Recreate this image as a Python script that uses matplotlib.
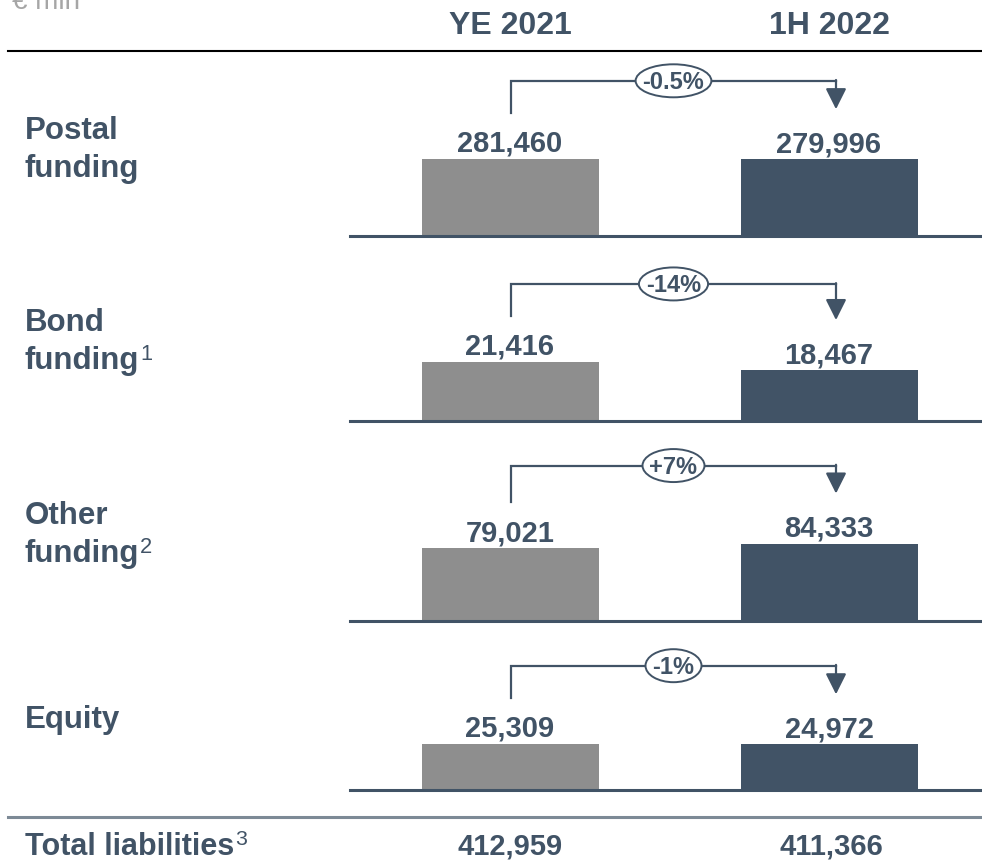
import numpy as np
import matplotlib.pyplot as plt
from matplotlib.patches import Ellipse

plt.rcParams['font.family'] = ['Liberation Sans', 'DejaVu Sans']

# data
categories = ["Postal\nfunding", "Bond\nfunding", "Other\nfunding", "Equity"]
footnotes = ["", "1", "2", ""]
periods = ["YE 2021", "1H 2022"]
ye2021 = [281460, 21416, 79021, 25309]
h12022 = [279996, 18467, 84333, 24972]
changes = ["-0.5%", "-14%", "+7%", "-1%"]
totals = [412959, 411366]

# colours
DARK = '#415366'
GREY = '#8e8e8e'
LIGHT = '#a6a6a6'

# layout in pixels (figure is 982 x 862 at dpi 100)
W, H = 982, 862
base_y = [237, 422, 622, 791]      # baseline of each panel
bar_px = [77, 55, 75, 46]          # visual height of a panel's mean bar
label_y = [150, 342, 535, 720]     # centre of the row labels
line_gap = 38
x_left, x_right = 350, 982
col_x = [510, 829]
bar_w = 177
panel_h = 150

fig = plt.figure(figsize=(W / 100, H / 100), dpi=100)
fig.patch.set_facecolor('white')

# overlay axes in pixel coordinates (y down) for text and connectors
ov = fig.add_axes([0, 0, 1, 1], zorder=5)
ov.set_xlim(0, W)
ov.set_ylim(H, 0)
ov.axis('off')
ov.patch.set_alpha(0)


def label_with_note(x, y, text, note, size, va):
    t = ov.text(x, y, text, ha='left', va=va, fontsize=size,
                fontweight='bold', color=DARK)
    if note:
        fig.canvas.draw()
        bb = t.get_window_extent()
        ov.text(bb.x1 + 1, H - bb.y1 - 2, note, ha='left', va='top',
                fontsize=size * 0.7, color=DARK)


step = col_x[1] - col_x[0]
for i, cat in enumerate(categories):
    ax = fig.add_axes([x_left / W, (H - base_y[i]) / H,
                       (x_right - x_left) / W, panel_h / H])
    vals = [ye2021[i], h12022[i]]
    ymax = np.mean(vals) * panel_h / bar_px[i]
    ax.bar([0, 1], vals, width=bar_w / step, color=[GREY, DARK], zorder=2)
    ax.set_xlim(-(col_x[0] - x_left) / step, 1 + (x_right - col_x[1]) / step)
    ax.set_ylim(0, ymax)
    ax.axhline(0, color=DARK, lw=2.2, zorder=3, clip_on=False)
    ax.axis('off')

    # bar tops in pixels
    tops = [base_y[i] - v / ymax * panel_h for v in vals]
    for j, v in enumerate(vals):
        ov.text(col_x[j], tops[j] - 8, f"{v:,}", ha='center', va='baseline',
                fontsize=21, fontweight='bold', color=DARK)

    # change connector
    x0, x1 = col_x[0] + 1, col_x[1] + 7
    y_start = tops[0] - 46
    y_level = min(tops) - 78
    y_tip = tops[1] - 50
    ov.plot([x0, x0, x1], [y_start, y_level, y_level], color=DARK, lw=1.6,
            solid_joinstyle='miter', zorder=1)
    ov.annotate('', xy=(x1, y_tip), xytext=(x1, y_level - 0.8),
                arrowprops=dict(arrowstyle='-|>,head_length=0.9,head_width=0.45',
                                color=DARK, lw=1.6, shrinkA=0, shrinkB=0,
                                mutation_scale=14), zorder=1)
    xm = (x0 + x1) / 2
    t = ov.text(xm, y_level + 1, changes[i], ha='center', va='center',
                fontsize=17, fontweight='bold', color=DARK, zorder=4)
    fig.canvas.draw()
    tw = t.get_window_extent().width
    ov.add_patch(Ellipse((xm, y_level), tw + 14, 33, fc='white', ec=DARK,
                         lw=1.4, zorder=3))

    # row label, one text per line, footnote on the last line
    lines = cat.split("\n")
    n = len(lines)
    for k, ln in enumerate(lines):
        y = label_y[i] + (k - (n - 1) / 2) * line_gap
        label_with_note(25, y, ln, footnotes[i] if k == n - 1 else "",
                        22.5, 'center')

# header
ov.text(12, 9, "€ mln", ha='left', va='baseline', fontsize=20, color=LIGHT)
for j, p in enumerate(periods):
    ov.text(col_x[j], 34, p, ha='center', va='baseline', fontsize=23,
            fontweight='bold', color=DARK)
ov.plot([8, W], [52, 52], color='black', lw=1.5)

# total row
ov.plot([8, W], [818, 818], color='#7d8a96', lw=2.2)
label_with_note(25, 855, "Total liabilities", "3", 22, 'baseline')
for j, v in enumerate(totals):
    ov.text(col_x[j] + 2 * j, 855, f"{v:,}", ha='center', va='baseline',
            fontsize=21, fontweight='bold', color=DARK)

fig.savefig('out.png', dpi=100, facecolor='white')
